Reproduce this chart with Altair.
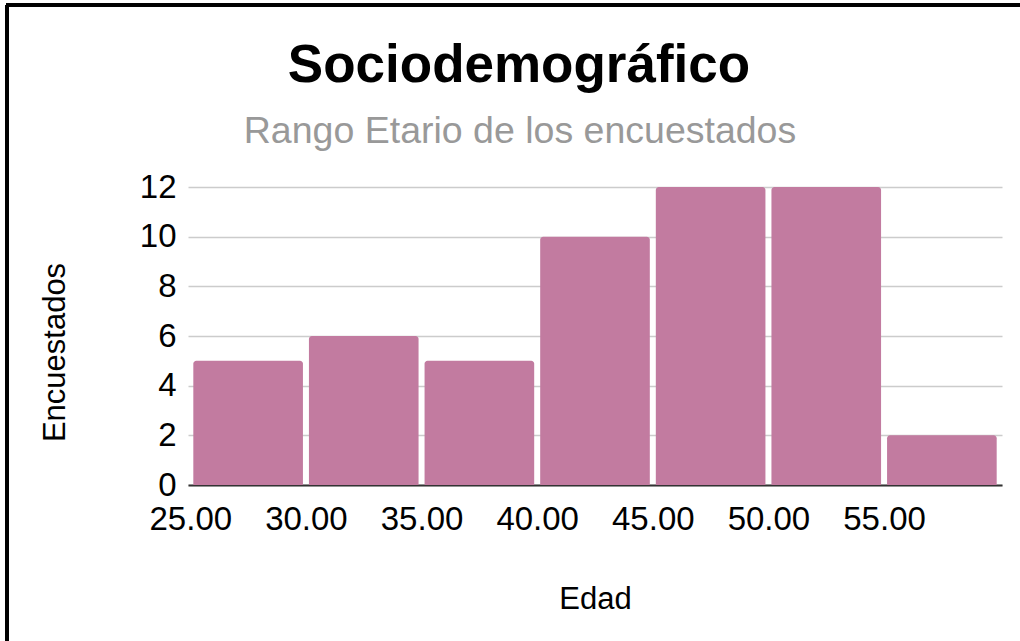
import altair as alt
import pandas as pd

bin_start = [25, 30, 35, 40, 45, 50, 55]
bin_end = [30, 35, 40, 45, 50, 55, 60]
counts = [5, 6, 5, 10, 12, 12, 2]
x_ticks = [25, 30, 35, 40, 45, 50, 55]
y_ticks = [0, 2, 4, 6, 8, 10, 12]
title_text = "Sociodemográfico"
subtitle_text = "Rango Etario de los encuestados"

df = pd.DataFrame({"start": bin_start, "end": bin_end, "count": counts})

FONT = "Liberation Sans"
W, H = 1020, 641
LEFT, TOP = 188, 187
PLOT_W, PLOT_H = 814, 298

bars = alt.Chart(df).mark_bar(
    color="#c27ba0",
    cornerRadiusTopLeft=3,
    cornerRadiusTopRight=3,
    xOffset=3,
    x2Offset=-3,
).encode(
    x=alt.X(
        "start:Q",
        scale=alt.Scale(domain=[24.9, 60.1], nice=False, zero=False),
        axis=alt.Axis(
            values=x_ticks,
            format=".2f",
            title="Edad",
            grid=False,
            ticks=False,
            domainColor="#333333",
            domainWidth=2,
            labelFontSize=33,
            labelColor="#000000",
            labelPadding=18,
            titleFontSize=31,
            titleFontWeight="normal",
            titleColor="#000000",
            titlePadding=48,
            labelFlush=False,
            labelOverlap=False,
        ),
    ),
    x2="end:Q",
    y=alt.Y(
        "count:Q",
        scale=alt.Scale(domain=[0, 12], nice=False),
        axis=alt.Axis(
            values=y_ticks,
            title="Encuestados",
            domain=False,
            ticks=False,
            gridColor="#cccccc",
            gridWidth=1.5,
            labelFontSize=33,
            labelColor="#000000",
            labelPadding=12,
            titleFontSize=31,
            titleFontWeight="normal",
            titleColor="#000000",
            titlePadding=68,
            titleY=165,
        ),
    ),
    y2=alt.datum(0),
)

border_top = alt.Chart(df).mark_rule(color="#000000", strokeWidth=3, clip=False).encode(
    x=alt.value(6 - LEFT), x2=alt.value(W - LEFT), y=alt.value(5 - TOP)
)
border_left = alt.Chart(df).mark_rule(color="#000000", strokeWidth=3, clip=False).encode(
    x=alt.value(7 - LEFT), y=alt.value(5 - TOP), y2=alt.value(H - TOP)
)

title_mark = alt.Chart(pd.DataFrame({"t": [title_text]})).mark_text(
    font=FONT, fontSize=53, fontWeight="bold", color="#000000",
    align="center", baseline="alphabetic", clip=False,
).encode(text="t:N", x=alt.value(519 - LEFT), y=alt.value(82 - TOP))

subtitle_mark = alt.Chart(pd.DataFrame({"s": [subtitle_text]})).mark_text(
    font=FONT, fontSize=37.5, color="#999999",
    align="center", baseline="alphabetic", clip=False,
).encode(text="s:N", x=alt.value(520 - LEFT), y=alt.value(143 - TOP))

chart = alt.layer(bars, border_top, border_left, title_mark, subtitle_mark).properties(
    width=PLOT_W,
    height=PLOT_H,
    autosize=alt.AutoSizeParams(type="none"),
    padding={"left": LEFT, "top": TOP, "right": W - LEFT - PLOT_W, "bottom": H - TOP - PLOT_H},
    background="#ffffff",
).configure(font=FONT).configure_view(stroke=None).configure_axis(
    labelFont=FONT, titleFont=FONT
)

chart.save("out.html", embed_options={"renderer": "svg", "actions": False})
